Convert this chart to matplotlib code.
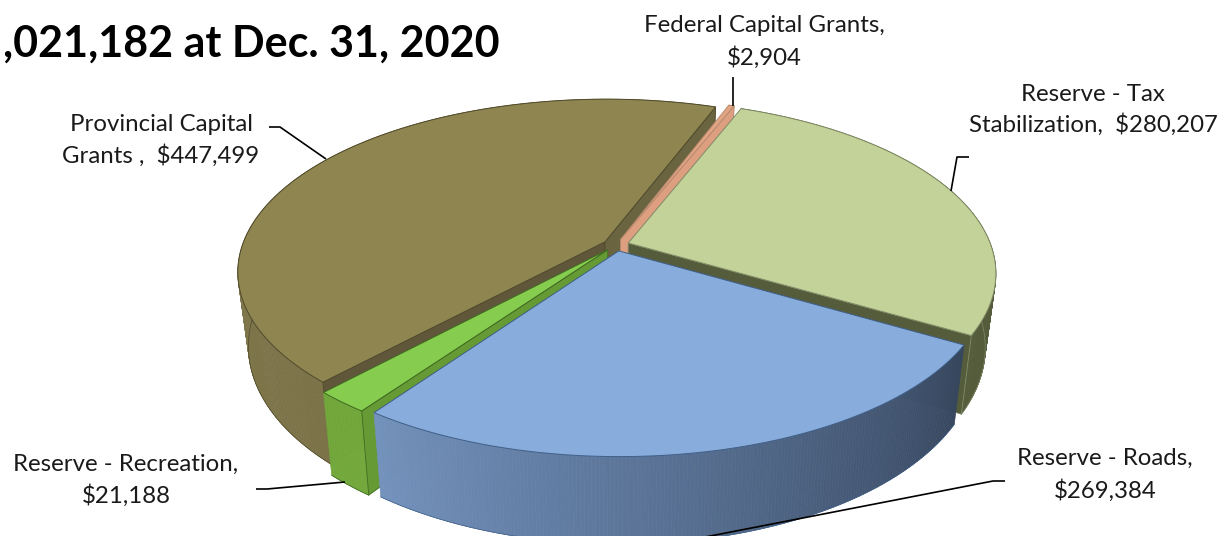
"""Exploded 3D-style pie of reserve balances."""
import numpy as np
import matplotlib
matplotlib.use("Agg")
import matplotlib.pyplot as plt
from matplotlib.collections import PolyCollection
from matplotlib.colors import to_rgb

plt.rcParams["font.family"] = ["Lato", "DejaVu Sans"]

# clockwise from the start angle
categories = [
    "Federal Capital Grants",
    "Reserve - Tax Stabilization",
    "Reserve - Roads",
    "Reserve - Recreation",
    "Provincial Capital Grants",
]
values = [2904, 280207, 269384, 21188, 447499]

top_colors = ["#e2a583", "#c3d298", "#88acdc", "#86cc4e", "#8f8550"]
edge_colors = ["#b98a70", "#7f8a66", "#3f5f88", "#3f6a22", "#4f4a2c"]
# outer wall colour at the clockwise start and end of each slice
wall_colors = [
    ("#d99c7c", "#d99c7c"),
    ("#555c3c", "#555c3c"),
    ("#36465e", "#7392bd"),
    ("#72a83c", "#72a83c"),
    ("#7b7248", "#8b8358"),
]
# cut faces at the clockwise start and end of each slice
cut_colors = [
    ("#dd9f80", "#dd9f80"),
    ("#555c3c", "#555c3c"),
    ("#36465e", "#36465e"),
    ("#659a34", "#659a34"),
    ("#60563a", "#6b6440"),
]
# cut faces the viewer can see (0 = start, -1 = end)
visible_cuts = [[-1], [-1], [], [0], [0, -1]]
# back to front
draw_order = [4, 0, 1, 3, 2]

START_ANGLE = 20.5
EXPLODE = 0.035
CX, CY = 616, 245
A, B = 370, 171.6
K = 0.175
RADIUS = 0.98
DEPTH = 72
SHRINK = 0.972


def project(u, v, bottom=False):
    w = 1 / (1 + K * v)
    x = CX + A * u * w
    y = CY - B * v * w
    if bottom:
        x = CX + (x - CX) * SHRINK
        y = y + DEPTH * w
    return np.column_stack([x, y])


def mix(c1, c2, t):
    a, b = np.array(to_rgb(c1)), np.array(to_rgb(c2))
    return tuple(a + (b - a) * t)


fig = plt.figure(figsize=(12.25, 5.36), dpi=100)
ax = fig.add_axes([0, 0, 1, 1])
ax.set_xlim(0, 1225)
ax.set_ylim(536, 0)
ax.axis("off")

angles = np.cumsum([0] + values) / sum(values) * 360 + START_ANGLE

z = 1
for i in draw_order:
    t1, t2 = np.radians(angles[i]), np.radians(angles[i + 1])
    mid = (t1 + t2) / 2
    ox, oy = EXPLODE * np.sin(mid), EXPLODE * np.cos(mid)
    n = max(int(np.degrees(t2 - t1) * 2), 4)
    t = np.linspace(t1, t2, n + 1)
    u = ox + RADIUS * np.sin(t)
    v = oy + RADIUS * np.cos(t)
    ou, ov = np.array([ox]), np.array([oy])

    top_arc = project(u, v)
    bot_arc = project(u, v, bottom=True)
    apex_top = project(ou, ov)
    apex_bot = project(ou, ov, bottom=True)

    # outer wall, one strip per step so the shading can run along the arc
    strips = [np.vstack([top_arc[j], top_arc[j + 1], bot_arc[j + 1], bot_arc[j]]) for j in range(n)]
    cols = [mix(wall_colors[i][0], wall_colors[i][1], j / max(n - 1, 1)) for j in range(n)]
    ax.add_collection(PolyCollection(strips, facecolors=cols, edgecolors=cols, linewidths=0.5, zorder=z))
    z += 1
    ax.plot(bot_arc[:, 0], bot_arc[:, 1], color=edge_colors[i], linewidth=0.5, zorder=z)
    z += 1

    # only the cut faces that look towards the viewer
    for end in visible_cuts[i]:
        col = cut_colors[i][0] if end == 0 else cut_colors[i][1]
        quad = np.vstack([apex_top, top_arc[end], bot_arc[end], apex_bot])
        ax.fill(quad[:, 0], quad[:, 1], facecolor=col, edgecolor=edge_colors[i], linewidth=0.6, zorder=z)
        z += 1

    # top face
    poly = np.vstack([apex_top, top_arc])
    ax.fill(poly[:, 0], poly[:, 1], facecolor=top_colors[i], edgecolor=edge_colors[i], linewidth=0.7, zorder=z)
    z += 1

# leader lines
leaders = [
    ([733, 733], [77, 106]),
    ([951, 957, 969], [191, 157, 157]),
    ([1005, 993, 700], [481, 481, 538]),
    ([256, 267, 345], [489, 489, 482]),
    ([269, 280, 326], [127, 127, 159]),
]
for xs, ys in leaders:
    ax.plot(xs, ys, color="black", linewidth=1.2, solid_capstyle="butt", zorder=z)

ax.text(3, 44, ",021,182 at Dec. 31, 2020", fontsize=31, fontweight="bold",
        color="black", ha="left", va="center", zorder=z)

labels = [
    ("Federal Capital Grants,\n$2,904", 764, 42, 1.59),
    ("Reserve - Tax\nStabilization,  $280,207", 1093, 110, 1.45),
    ("Reserve - Roads,\n$269,384", 1105, 475, 1.59),
    ("Reserve - Recreation,\n$21,188", 126, 480, 1.5),
    ("Provincial Capital\nGrants ,  $447,499", 161, 140, 1.5),
]
for text, x, y, spacing in labels:
    ax.text(x, y, text, fontsize=17.3, color="#1a1a1a", ha="center", va="center",
            linespacing=spacing, zorder=z)

fig.savefig("out.png", dpi=100)
